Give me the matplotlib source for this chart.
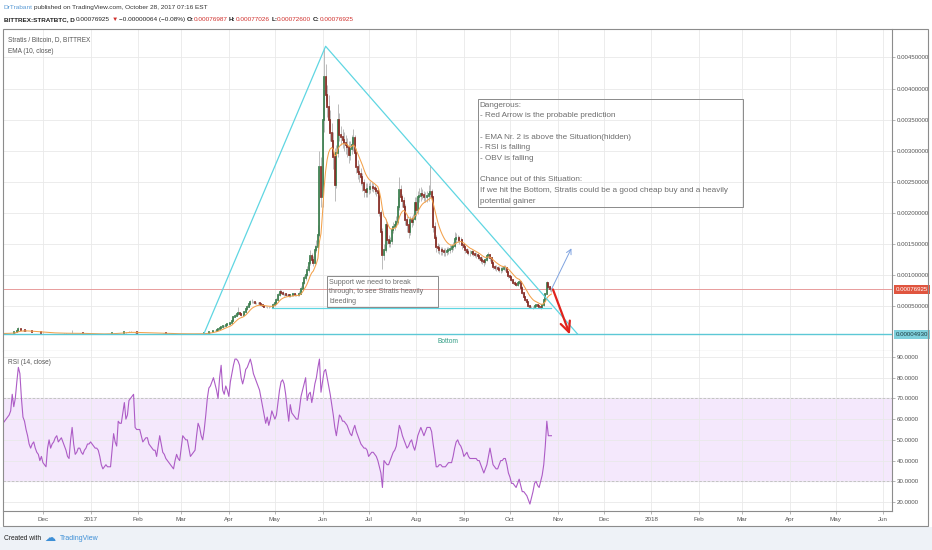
"""
Stratis / Bitcoin daily chart (TradingView snapshot, Oct 28 2017)
Candles + EMA(10) on top, RSI(14) underneath, with the drawn annotations.
"""

import datetime as dt

import matplotlib
matplotlib.use("Agg")
import matplotlib.pyplot as plt
import matplotlib.dates as mdates
import matplotlib.transforms as mtransforms
from matplotlib.patches import Rectangle
import numpy as np
import pandas as pd

plt.rcParams['font.family'] = ['Liberation Sans Narrow', 'Liberation Sans', 'DejaVu Sans']


# ============================================================
# Data (prices in micro-BTC, one value per day from 2016-11-05)
# ============================================================

first_day = "2016-11-05"
first_open = 60

close = [
    62, 63, 64, 66, 68, 72, 70, 78, 88, 105, 135, 128, 118, 112, 108, 104, 100, 97, 94, 91, 88, 86, 83, 80, 78, 76,  # nov
    74, 72, 71, 70, 69, 68, 68, 67, 66, 66, 65, 65, 64, 64, 63, 63, 64, 65, 66, 70, 68, 66, 65, 64, 63, 62, 61, 60, 59, 58, 57,  # dec
    56, 55, 54, 53, 53, 52, 52, 53, 54, 55, 56, 57, 58, 60, 62, 64, 66, 68, 70, 72, 74, 76, 78, 82, 88, 92, 86, 82, 80, 78, 76,  # jan
    75, 74, 74, 73, 73, 72, 72, 71, 71, 70, 69, 68, 67, 66, 65, 64, 63, 62, 61, 60, 59, 58, 58, 57, 57, 56, 56, 56,  # feb
    56, 55, 55, 56, 55, 55, 56, 57, 56, 56, 57, 58, 58, 59, 60, 63, 67, 72, 78, 85, 92, 100, 108, 117, 130, 145, 160, 180, 190, 200, 210,  # mar
    215, 225, 270, 330, 350, 370, 390, 375, 365, 360, 400, 450, 490, 540, 570, 575, 560, 550, 555, 547, 530, 515, 505, 495, 490, 485, 488, 492, 495, 520,  # apr
    547, 600, 680, 728, 720, 700, 690, 685, 680, 670, 675, 680, 690, 685, 680, 680, 700, 780, 873, 950, 1000, 1080, 1200, 1300, 1250, 1195, 1404, 1452, 1650, 2740, 2250,  # may
    3500, 4190, 3895, 3700, 3490, 3280, 3150, 2900, 2450, 2964, 3490, 3250, 3220, 3180, 3120, 3100, 3060, 2930, 3030, 3100, 3200, 2964, 2740, 2660, 2620, 2580, 2480, 2370, 2340, 2380,  # jun
    2380, 2420, 2420, 2400, 2380, 2350, 2320, 2000, 1690, 1320, 1400, 1800, 1560, 1510, 1550, 1725, 1775, 1800, 1850, 2100, 2370, 2255, 2200, 2095, 1885, 1800, 1690, 1885, 1850, 1900, 2160,  # jul
    2050, 2250, 2280, 2300, 2290, 2260, 2250, 2280, 2300, 2340, 2250, 1780, 1600, 1460, 1440, 1410, 1400, 1390, 1380, 1370, 1390, 1400, 1420, 1450, 1470, 1580, 1600, 1590, 1570, 1560, 1480,  # aug
    1450, 1400, 1380, 1360, 1350, 1370, 1340, 1330, 1320, 1300, 1280, 1250, 1230, 1210, 1240, 1300, 1320, 1270, 1200, 1130, 1120, 1110, 1100, 1090, 1080, 1100, 1120, 1110, 1050, 990,  # sep
    970, 920, 880, 860, 840, 870, 890, 800, 712, 650, 600, 560, 500, 487, 490, 480, 500, 519, 500, 487, 470, 520, 600, 700, 873, 810, 770, 769.25,  # oct
]

high = [
    64, 65, 66, 68, 70, 75, 74, 80, 92, 112, 160, 140, 130, 120, 114, 110, 106, 102, 99, 96, 92, 90, 88, 85, 82, 80,
    78, 76, 74, 73, 72, 71, 70, 70, 69, 68, 68, 67, 67, 66, 66, 65, 66, 67, 68, 113, 74, 70, 68, 67, 66, 65, 64, 63, 62, 61, 60,
    59, 58, 57, 56, 55, 55, 54, 55, 56, 57, 58, 59, 60, 62, 64, 66, 68, 70, 72, 74, 76, 78, 80, 85, 92, 105, 94, 88, 84, 82, 80,
    78, 77, 76, 76, 75, 75, 74, 74, 73, 73, 72, 71, 70, 69, 68, 67, 66, 65, 64, 63, 62, 61, 60, 60, 59, 59, 58, 58,
    58, 58, 57, 58, 58, 57, 58, 59, 58, 58, 59, 60, 60, 61, 62, 65, 70, 75, 82, 90, 97, 106, 114, 125, 138, 155, 172, 195, 205, 215, 225,
    230, 240, 290, 350, 380, 400, 490, 410, 390, 380, 420, 470, 520, 560, 600, 610, 590, 570, 575, 570, 555, 540, 525, 515, 505, 500, 505, 510, 515, 550,
    580, 640, 720, 780, 760, 740, 720, 710, 700, 700, 700, 710, 720, 710, 700, 710, 740, 820, 920, 1000, 1060, 1150, 1280, 1400, 1350, 1300, 1480, 1560, 1800, 3000, 2900,
    3700, 4650, 4400, 4050, 3900, 3650, 3450, 3300, 3050, 3100, 3750, 3600, 3400, 3350, 3300, 3250, 3200, 3150, 3150, 3250, 3350, 3250, 3050, 2850, 2780, 2720, 2650, 2550, 2480, 2480,
    2480, 2520, 2500, 2480, 2450, 2420, 2400, 2350, 2050, 1750, 1500, 1900, 1850, 1650, 1620, 1780, 1850, 1880, 1950, 2250, 2580, 2450, 2300, 2250, 2150, 1950, 1850, 1950, 1950, 1980, 2250,
    2250, 2350, 2400, 2420, 2380, 2350, 2330, 2350, 2450, 2770, 2380, 2280, 1850, 1650, 1520, 1500, 1460, 1450, 1440, 1430, 1450, 1460, 1480, 1500, 1530, 1700, 1680, 1650, 1630, 1620, 1580,
    1520, 1480, 1440, 1420, 1400, 1410, 1400, 1380, 1370, 1350, 1330, 1310, 1290, 1260, 1280, 1340, 1380, 1340, 1290, 1220, 1170, 1160, 1150, 1140, 1130, 1150, 1170, 1160, 1130, 1070,
    1010, 990, 940, 900, 880, 890, 920, 900, 820, 730, 670, 610, 570, 520, 510, 510, 520, 540, 530, 510, 500, 540, 620, 720, 900, 880, 820, 770.26,
]

low = [
    58, 60, 61, 62, 64, 66, 68, 68, 76, 86, 100, 124, 115, 108, 105, 101, 98, 95, 92, 89, 86, 84, 81, 78, 76, 74,
    72, 71, 70, 69, 67, 66, 66, 65, 64, 64, 63, 63, 62, 62, 61, 61, 62, 63, 64, 65, 66, 64, 63, 62, 61, 60, 59, 58, 57, 56, 55,
    54, 53, 52, 51, 51, 50, 50, 51, 52, 53, 54, 55, 56, 57, 59, 61, 63, 65, 67, 69, 71, 73, 75, 77, 80, 86, 84, 80, 78, 76, 74,
    73, 72, 72, 71, 71, 70, 70, 69, 69, 68, 67, 66, 65, 64, 63, 62, 61, 60, 59, 58, 57, 56, 56, 55, 55, 54, 54, 54,
    54, 54, 53, 54, 54, 53, 54, 55, 55, 54, 55, 56, 56, 57, 58, 59, 62, 65, 70, 76, 83, 90, 98, 105, 114, 126, 140, 155, 172, 182, 192,
    200, 205, 220, 260, 320, 340, 360, 360, 350, 345, 355, 390, 440, 480, 520, 550, 545, 530, 535, 530, 515, 500, 495, 485, 480, 475, 475, 480, 485, 490,
    510, 530, 590, 660, 690, 680, 670, 665, 660, 650, 655, 660, 670, 665, 660, 660, 670, 690, 760, 850, 920, 980, 1050, 1170, 1200, 1150, 1180, 1380, 1420, 1620, 2100,
    2100, 3300, 3800, 3550, 3350, 3150, 2950, 2700, 2200, 2400, 2900, 3150, 3100, 3050, 3000, 2950, 2900, 2800, 2850, 2950, 3000, 2850, 2650, 2550, 2500, 2450, 2350, 2250, 2250, 2250,
    2300, 2320, 2350, 2330, 2300, 2280, 2250, 1950, 1650, 1100, 1250, 1380, 1500, 1450, 1450, 1500, 1680, 1720, 1780, 1820, 2050, 2200, 2100, 1950, 1800, 1700, 1600, 1650, 1780, 1800, 1880,
    1950, 1980, 2180, 2200, 2220, 2200, 2180, 2180, 2200, 2250, 2150, 1700, 1450, 1380, 1360, 1340, 1330, 1320, 1310, 1300, 1320, 1340, 1360, 1380, 1400, 1440, 1520, 1530, 1500, 1490, 1420,
    1420, 1360, 1340, 1320, 1300, 1320, 1300, 1290, 1280, 1260, 1240, 1200, 1180, 1150, 1180, 1220, 1280, 1230, 1150, 1100, 1080, 1070, 1060, 1050, 1040, 1050, 1080, 1060, 1000, 950,
    950, 900, 860, 840, 820, 830, 860, 780, 690, 630, 580, 540, 480, 470, 470, 460, 470, 490, 480, 470, 455, 465, 510, 590, 690, 780, 750, 726,
]

rsi = [
    58, 59, 60, 61, 62, 64, 72, 66, 70, 78, 85, 82, 70, 61, 59, 55, 52, 48, 46, 48, 49, 46, 44, 43, 40, 42,
    39, 38, 37, 46, 50, 46, 48, 49, 51, 52, 49, 50, 51, 49, 47, 45, 42, 41, 50, 56, 48, 43, 44, 46, 46, 44, 43, 45, 46, 48, 48,
    49, 48, 47, 46, 46, 45, 42, 38, 36, 37, 38, 37, 37, 37, 45, 53, 49, 47, 59, 58, 58, 63, 68, 60, 62, 69, 70, 71, 72, 56, 55,
    55, 55, 52, 49, 50, 51, 51, 48, 47, 46, 45, 45, 42, 47, 52, 48, 44, 43, 41, 40, 39, 38, 37, 36, 40, 43, 41, 40,
    46, 52, 51, 50, 50, 46, 42, 43, 44, 45, 52, 58, 56, 52, 50, 55, 62, 70, 75, 76, 78, 80, 77, 74, 70, 80, 86, 74, 72, 76, 74,
    71, 78, 82, 86, 89, 89, 88, 86, 80, 77, 80, 84, 85, 87, 89, 86, 82, 80, 78, 76, 74, 70, 66, 62, 58, 61, 57, 60, 64, 62,
    60, 62, 68, 74, 78, 79, 77, 72, 65, 59, 67, 63, 62, 61, 60, 60, 65, 71, 74, 77, 80, 69, 72, 73, 68, 72, 77, 80, 85, 89, 73,
    78, 83, 84, 80, 76, 72, 67, 62, 56, 52, 57, 62, 61, 59, 59, 58, 57, 55, 53, 52, 55, 57, 54, 52, 50, 48, 47, 46, 46, 45,
    42, 43, 44, 44, 43, 42, 40, 37, 34, 27, 40, 39, 38, 38, 40, 42, 44, 45, 47, 52, 57, 55, 52, 50, 48, 46, 47, 49, 50, 47, 45,
    48, 52, 54, 56, 54, 52, 54, 56, 56, 56, 54, 48, 43, 37, 37, 38, 38, 37, 37, 37, 38, 39, 39, 39, 42, 46, 49, 50, 48, 47, 45,
    42, 43, 44, 42, 41, 41, 41, 41, 41, 40, 40, 38, 36, 34, 36, 38, 42, 46, 42, 38, 37, 36, 36, 38, 40, 40, 41, 41, 38, 34,
    32, 29, 29, 28, 27, 29, 31, 28, 25, 25, 24, 23, 21, 19, 22, 25, 29, 30, 28, 27, 30, 33, 38, 47, 59, 52, 52, 52,
]

# drawings on the chart (date, micro-BTC)
triangle_dates = ["2017-03-16", "2017-06-03", "2017-11-14"]
triangle_prices = [69, 4680, 53]
support_dates = ["2017-04-29", "2017-10-28"]
support_price = 471
bottom_price = 49.30
blue_arrow = [("2017-10-28", 772), ("2017-11-10", 1431)]
red_arrow = [("2017-10-29", 770), ("2017-11-09", 45)]
danger_box = [("2017-09-10", 3832), ("2018-03-02", 2095)]
support_box = [("2017-06-04", 986), ("2017-08-15", 487)]

danger_lines = [
    "Dangerous:",
    "- Red Arrow is the probable prediction",
    "",
    "- EMA Nr. 2 is above the Situation(hidden)",
    "- RSI is falling",
    "- OBV is falling",
    "",
    "Chance out of this Situation:",
    "If we hit the Bottom, Stratis could be a good cheap buy and a heavily",
    "potential gainer",
]
support_lines = ["Support we need to break", "through, to see Stratis heavily", "bleeding"]

price_ticks = [0.0005, 0.0010, 0.0015, 0.0020, 0.0025, 0.0030, 0.0035, 0.0040, 0.0045]
rsi_ticks = [20, 30, 40, 50, 60, 70, 80, 90]


# ============================================================
# Helpers
# ============================================================

W, H = 932, 550
U = 1e-6
PT = 0.72  # points per pixel at dpi 100


def px_rect(l, t, r, b):
    return [l / W, 1 - b / H, (r - l) / W, (b - t) / H]


def dnum(s):
    return mdates.date2num(dt.datetime.strptime(s, "%Y-%m-%d"))


def month_label(x, pos=None):
    d = mdates.num2date(x)
    if d.month == 1:
        return str(d.year)
    return d.strftime("%b")


def chain_text(fig, x_px, base_px, pieces, size):
    # pieces laid out left to right on one baseline: (text, color, weight, gap px)
    renderer = fig.canvas.get_renderer()
    x = x_px
    for s, col, wt, gap in pieces:
        x += gap
        t = fig.text(x / W, 1 - base_px / H, s, color=col, fontweight=wt,
                     fontsize=size, ha="left", va="baseline")
        x += t.get_window_extent(renderer).width


# ============================================================
# Main plotting routine
# ============================================================

n = min(len(close), len(high), len(low), len(rsi))
dates = pd.date_range(first_day, periods=n, freq="D")
xd = mdates.date2num(dates.to_pydatetime())

c = np.array(close[:n]) * U
o = np.array([first_open] + close[:n - 1]) * U
h = np.array(high[:n]) * U
l = np.array(low[:n]) * U
ema = pd.Series(c).ewm(span=10, adjust=False).mean().values

fig = plt.figure(figsize=(9.32, 5.5), dpi=100)
fig.patch.set_facecolor("white")

ax = fig.add_axes(px_rect(3, 29, 892, 351))
ax_rsi = fig.add_axes(px_rect(3, 351, 892, 511), sharex=ax)

x_dec = mdates.date2num(dt.datetime(2016, 12, 1))
ax.set_xlim(x_dec - 26.0, x_dec + 552.7)
ax.set_ylim(-0.000220, 0.004958)
ax_rsi.set_ylim(15.65, 92.9)

for a in (ax, ax_rsi):
    a.set_axisbelow(True)
    a.grid(True, color="#e9e9e9", lw=0.6)
    a.yaxis.tick_right()
    a.tick_params(axis="y", length=2, width=0.5, color="#999999",
                  labelsize=4.4, labelcolor="#555555", pad=1.5)
    for sp in a.spines.values():
        sp.set_color("#8c8c8c")
        sp.set_linewidth(0.8)
    a.spines["left"].set_visible(False)
    a.spines["top"].set_visible(False)

ax.xaxis.set_major_locator(mdates.MonthLocator())
ax.xaxis.set_major_formatter(plt.FuncFormatter(month_label))
ax.tick_params(axis="x", length=0, labelbottom=False)
ax_rsi.tick_params(axis="x", length=2, width=0.5, color="#999999",
                   labelsize=4.5, labelcolor="#555555", pad=2)

ax.set_yticks(price_ticks)
ax.set_yticklabels([f"{v:.8f}" for v in price_ticks])
ax_rsi.set_yticks(rsi_ticks)
ax_rsi.set_yticklabels([f"{v:.4f}" for v in rsi_ticks])

# candles
up = c >= o
lo = np.minimum(o, c)
hi = np.maximum(o, c)
ax.vlines(xd, l, h, colors="#a9a9a9", linewidth=0.55, zorder=2)
for mask, col in ((up, "#3a7d4d"), (~up, "#862a22")):
    b = ax.vlines(xd[mask], lo[mask], hi[mask], colors=col, linewidth=1.25, zorder=3)
    b.set_capstyle("projecting")

ax.plot(xd, ema, color="#f3a14b", lw=0.75, zorder=4)

# drawings
ax.plot([dnum(d) for d in triangle_dates], np.array(triangle_prices) * U,
        color="#5fd6e2", lw=0.9, zorder=5)
ax.plot([dnum(d) for d in support_dates], [support_price * U] * 2,
        color="#5fd6e2", lw=0.9, zorder=5)
ax.axhline(bottom_price * U, color="#5cc8d6", lw=1.0, zorder=5)
ax.axhline(c[-1], color="#e89c9c", lw=0.7, zorder=1)

ax.annotate("Bottom", xy=(dnum("2017-08-22"), bottom_price * U), xytext=(0, -5),
            textcoords="offset points", ha="center", va="center",
            fontsize=4.8, color="#2f9c84")

(b0, p0), (b1, p1) = blue_arrow
ax.annotate("", xy=(dnum(b1), p1 * U), xytext=(dnum(b0), p0 * U),
            arrowprops=dict(arrowstyle="->,head_length=0.35,head_width=0.18",
                            color="#7fa3e0", lw=0.7, shrinkA=0, shrinkB=0), zorder=6)
(r0, q0), (r1, q1) = red_arrow
ax.annotate("", xy=(dnum(r1), q1 * U), xytext=(dnum(r0), q0 * U),
            arrowprops=dict(arrowstyle="->,head_length=0.75,head_width=0.35",
                            color="#e0231c", lw=1.6, shrinkA=0, shrinkB=0), zorder=6)

# text boxes: lines placed one by one (first line centre and step in px)
for (d0, top), (d1, bot), lines, fs, first, step in (
        (danger_box[0], danger_box[1], danger_lines, 5.9, 6.0, 10.7),
        (support_box[0], support_box[1], support_lines, 5.1, 6.0, 9.5)):
    x0, x1 = dnum(d0), dnum(d1)
    ax.add_patch(Rectangle((x0, bot * U), x1 - x0, (top - bot) * U, fill=False,
                           ec="#8a8a8a", lw=0.7, zorder=6))
    for i, line in enumerate(lines):
        if line:
            ax.annotate(line, xy=(x0, top * U),
                        xytext=(2 * PT, -(first + i * step) * PT), textcoords="offset points",
                        ha="left", va="center", fontsize=fs, color="#6e6e6e", zorder=6)

# right-axis value labels
tr = mtransforms.blended_transform_factory(ax.transAxes, ax.transData)
ax.text(1.004, c[-1], f"{c[-1]:.8f}", transform=tr, ha="left", va="center",
        fontsize=4.4, color="white", clip_on=False, zorder=10,
        bbox=dict(boxstyle="square,pad=0.3", fc="#e0553f", ec="none"))
ax.text(1.004, bottom_price * U, f"{bottom_price * U:.8f}", transform=tr, ha="left",
        va="center", fontsize=4.4, color="#1d3b40", clip_on=False, zorder=10,
        bbox=dict(boxstyle="square,pad=0.3", fc="#7fd0dc", ec="none"))

# RSI pane
ax_rsi.axhspan(30, 70, color="#f4e8fc", zorder=0)
for lvl in (30, 70):
    ax_rsi.axhline(lvl, color="#bdbdbd", lw=0.6, ls=(0, (3, 2)), zorder=1)
ax_rsi.plot(xd, rsi[:n], color="#ad5cc6", lw=0.8, zorder=3)

# pane legends
fig.text(8 / W, 1 - 40 / H, "Stratis / Bitcoin, D, BITTREX", fontsize=4.7, color="#555555", va="center")
fig.text(8 / W, 1 - 51.5 / H, "EMA (10, close)", fontsize=4.7, color="#555555", va="center")
fig.text(8 / W, 1 - 363 / H, "RSI (14, close)", fontsize=4.7, color="#555555", va="center")

# outer frame and footer strip
fig.add_artist(Rectangle((0, 0), 1, 23.5 / H, transform=fig.transFigure,
                         fc="#eef2f7", ec="none", zorder=-5))
fig.add_artist(Rectangle((3 / W, 1 - 526 / H), 925 / W, 497 / H, transform=fig.transFigure,
                         fill=False, ec="#8c8c8c", lw=0.8))

# header lines
chain_text(fig, 3.5, 9.0, [
    ("DrTrabant", "#5b9bd5", "normal", 0),
    ("published on TradingView.com, October 28, 2017 07:16 EST", "#333333", "normal", 1.5),
], 4.65)
red = "#d0312d"
dark = "#222222"
chain_text(fig, 3.5, 21.2, [
    ("BITTREX:STRATBTC, D", dark, "bold", 0),
    ("0.00076925", dark, "normal", 1.5),
    ("\u25bc", red, "normal", 1.5),
    ("\u22120.00000064 (\u22120.08%)", dark, "normal", 1.5),
    ("O:", dark, "bold", 1.5),
    ("0.00076987", red, "normal", 0),
    ("H:", dark, "bold", 1.5),
    ("0.00077026", red, "normal", 0),
    ("L:", dark, "bold", 1.5),
    ("0.00072600", red, "normal", 0),
    ("C:", dark, "bold", 1.5),
    ("0.00076925", red, "normal", 0),
], 4.6)

# footer
fig.text(3.5 / W, 1 - 538 / H, "Created with", fontsize=4.8, color="#222222", va="center")
fig.text(44 / W, 1 - 538 / H, "\u2601", fontsize=8, color="#3d8fd6", va="center",
         family=["DejaVu Sans"])
fig.text(60 / W, 1 - 538 / H, "TradingView", fontsize=5.0, color="#3d8fd6", va="center")

fig.savefig("out.png", dpi=100)
